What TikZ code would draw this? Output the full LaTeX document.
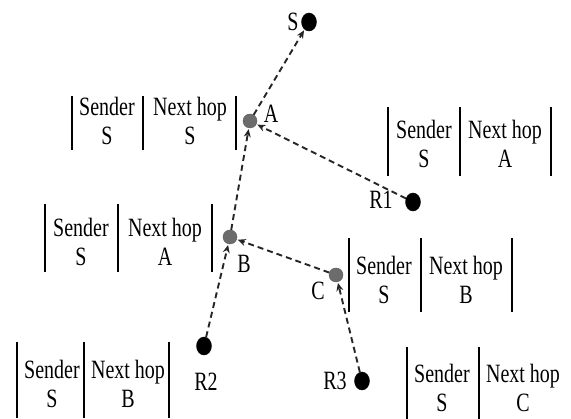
\documentclass[tikz,border=0pt]{standalone}
\usepackage{fontspec}
\setmainfont{Liberation Serif}
\usetikzlibrary{arrows.meta,shapes.geometric}

\tikzset{
  host/.style={ellipse, fill=black, draw=black, minimum width=15pt, minimum height=18pt, inner sep=0pt},
  relay/.style={circle, fill=gray!85!black, draw=gray!70!black, minimum size=14pt, inner sep=0pt},
  txt/.style={font=\fontsize{20}{22}\selectfont, inner sep=0pt, yscale=1.32, transform shape},
  cell/.style={txt, align=center},
  bar/.style={line width=1.6pt},
  hop/.style={line width=1.9pt, dash pattern=on 6pt off 4pt, black!85,
    -{Stealth[length=8pt, width=7pt]}, shorten >=1pt}
}

\begin{document}
\begin{tikzpicture}[x=1pt, y=-1pt]
            \useasboundingbox (0,0) rectangle (571,419);

            % nodes of the route
            \node[host] (S) at (309,22) {};
            \node[relay] (A) at (250,121) {};
            \node[host] (R1) at (413,202) {};
            \node[relay] (B) at (230,237) {};
            \node[relay] (C) at (336,275) {};
            \node[host] (R2) at (204,346) {};
            \node[host] (R3) at (362,381) {};

            \node[txt] (S-lbl) at (293,22) {S};
            \node[txt] (A-lbl) at (271,114) {A};
            \node[txt] (R1-lbl) at (381,200) {R1};
            \node[txt] (B-lbl) at (244,264) {B};
            \node[txt] (C-lbl) at (318,291) {C};
            \node[txt] (R2-lbl) at (206,382) {R2};
            \node[txt] (R3-lbl) at (335,381) {R3};

            % reverse path towards the sender
            \draw[hop] (A) -- (S);
            \draw[hop] (R1) -- (A);
            \draw[hop] (B) -- (A);
            \draw[hop] (C) -- (B);
            \draw[hop] (R2) -- (B);
            \draw[hop] (R3) -- (C);

            % routing entries
            \node[cell] (A-snd) at (107,121) {Sender\\S};
            \node[cell] (A-nxt) at (190,121) {Next hop\\S};
            \draw[bar] (72,96) -- (72,150) (143,96) -- (143,150) (236,96) -- (236,150);

            \node[cell] (R1-snd) at (424,144) {Sender\\S};
            \node[cell] (R1-nxt) at (505,144) {Next hop\\A};
            \draw[bar] (388,107) -- (388,176) (460,107) -- (460,176) (551,107) -- (551,176);

            \node[cell] (B-snd) at (81,242) {Sender\\S};
            \node[cell] (B-nxt) at (165,242) {Next hop\\A};
            \draw[bar] (45,204) -- (45,272) (118,204) -- (118,272) (212,204) -- (212,272);

            \node[cell] (C-snd) at (384,280) {Sender\\S};
            \node[cell] (C-nxt) at (466,280) {Next hop\\B};
            \draw[bar] (349,238) -- (349,312) (421,238) -- (421,312) (512,238) -- (512,312);

            \node[cell] (R2-snd) at (52,384) {Sender\\S};
            \node[cell] (R2-nxt) at (128,384) {Next hop\\B};
            \draw[bar] (17,342) -- (17,418) (84,342) -- (84,418) (169,342) -- (169,418);

            \node[cell] (R3-snd) at (442,388) {Sender\\S};
            \node[cell] (R3-nxt) at (523,388) {Next hop\\C};
            \draw[bar] (407,347) -- (407,419) (479,347) -- (479,419);
        \end{tikzpicture}
\end{document}
